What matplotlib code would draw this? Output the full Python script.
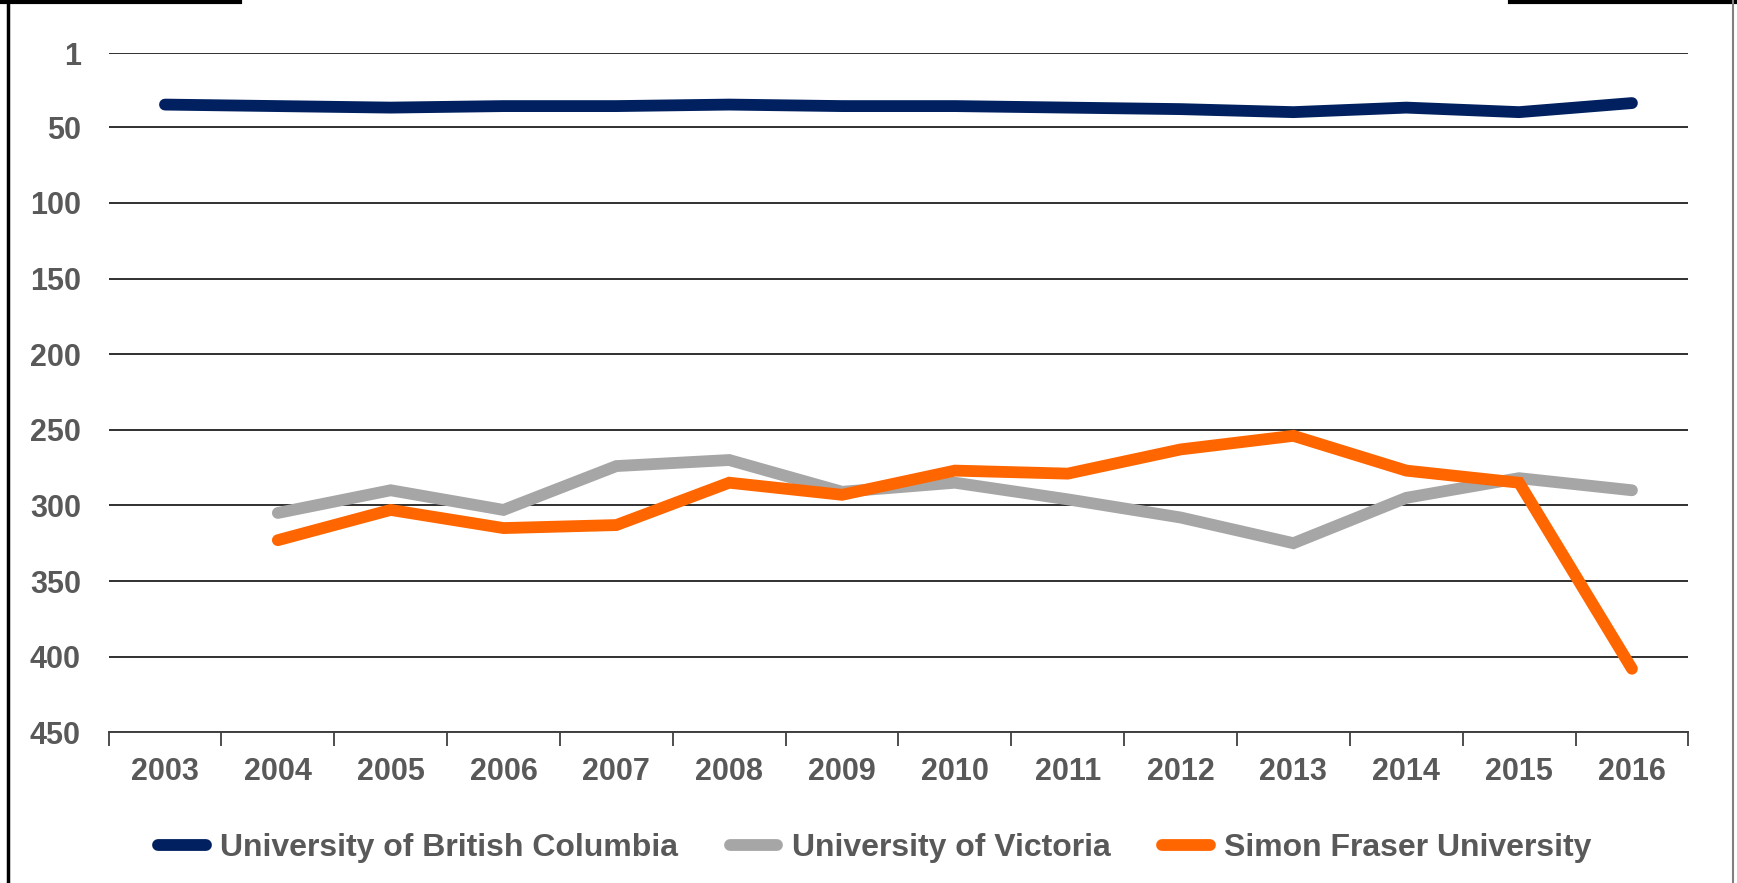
import matplotlib
matplotlib.use("Agg")
import matplotlib.pyplot as plt
from matplotlib.lines import Line2D
import numpy as np

years = list(range(2003, 2017))
ubc = [35, 36, 37, 36, 36, 35, 36, 36, 37, 38, 40, 37, 40, 34]
uvic = [np.nan, 305, 290, 303, 274, 270, 291, 285, 296, 308, 325, 295, 282, 290]
sfu = [np.nan, 323, 303, 315, 313, 285, 293, 277, 279, 263, 254, 277, 285, 408]

series_names = ["University of British Columbia", "University of Victoria", "Simon Fraser University"]
series_colors = ["#002060", "#A6A6A6", "#FF6600"]
y_ticks = [1, 50, 100, 150, 200, 250, 300, 350, 400, 450]

plt.rcParams['font.family'] = ['Liberation Sans', 'DejaVu Sans']
plt.rcParams['font.weight'] = 'bold'

fig = plt.figure(figsize=(17.37, 8.83), dpi=100)
ax = fig.add_axes([0.0625, 0.1707, 0.9095, 0.7691])

for vals, name, col in zip([ubc, uvic, sfu], series_names, series_colors):
    ax.plot(years, vals, color=col, lw=8.5, solid_capstyle='round',
            solid_joinstyle='miter', label=name, zorder=3)

ax.set_xlim(2002.5, 2016.5)
ax.set_ylim(450, 1)
ax.set_yticks(y_ticks)
ax.set_yticklabels([str(v) for v in y_ticks])
ax.yaxis.grid(True, color="#303030", lw=1.4, zorder=0)
ax.tick_params(axis='y', length=0, pad=20, labelsize=22, labelcolor="#595959")

# category axis: boundary ticks, labels centred on years
ax.set_xticks(np.arange(2002.5, 2017, 1))
ax.set_xticklabels([])
ax.set_xticks(years, minor=True)
ax.set_xticklabels([str(y) for y in years], minor=True)
ax.tick_params(axis='x', which='major', length=10, width=1.3, color="#404040", direction='out')
ax.tick_params(axis='x', which='minor', length=0, pad=18, labelsize=22, labelcolor="#595959")

for s in ['top', 'right', 'left']:
    ax.spines[s].set_visible(False)
ax.spines['bottom'].set_color("#404040")
ax.spines['bottom'].set_linewidth(1.4)

ax.legend(loc='center', bbox_to_anchor=(0.485, -0.17), ncol=3, frameon=False,
          fontsize=23, labelcolor="#595959", handlelength=1.5, handletextpad=0.45,
          columnspacing=1.6)

# outer frame fragments of the cropped chart
fig.add_artist(Line2D([8 / 1737, 8 / 1737], [0, 1], color="black", lw=2.5))
fig.add_artist(Line2D([0, 240 / 1737], [0.998, 0.998], color="black", lw=3))
fig.add_artist(Line2D([1510 / 1737, 1], [0.998, 0.998], color="black", lw=3))
fig.add_artist(Line2D([1733 / 1737, 1733 / 1737], [0, 1], color="#808080", lw=1.5))

fig.savefig("out.png", dpi=100)
